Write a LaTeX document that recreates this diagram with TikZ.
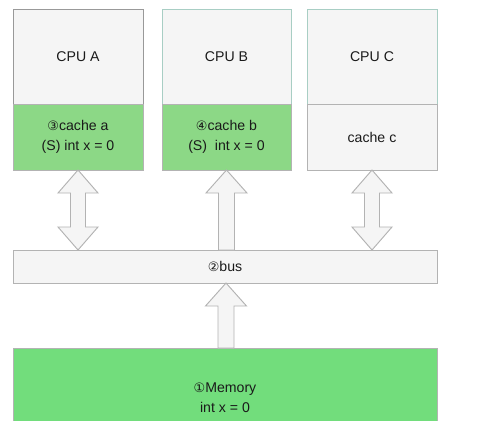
\documentclass[tikz,border=0pt]{standalone}
\usepackage{fontspec}
\setmainfont{Liberation Sans}
\newfontfamily\circfont{DejaVu Sans}
\usetikzlibrary{calc}
\definecolor{boxfill}{HTML}{F5F5F5}
\definecolor{boxline}{HTML}{B3B3B3}
\definecolor{darkline}{HTML}{999999}
\definecolor{tealline}{HTML}{A8CEC4}
\definecolor{cachegreen}{HTML}{8CD886}
\definecolor{memgreen}{HTML}{72DD7C}
\definecolor{txt}{HTML}{1A1A1A}
\newcommand{\circnum}[1]{{\circfont\fontsize{11}{13}\selectfont #1}}
\tikzset{
  blk/.style={draw=boxline, fill=boxfill, line width=0.8pt, inner sep=0pt, outer sep=0pt,
    text=txt, align=center, font=\fontsize{12}{17}\selectfont},
  cpubox/.style={blk, minimum width=110.5pt, minimum height=80.75pt},
  cachebox/.style={blk, minimum width=110.5pt, minimum height=56.1pt},
  blockarrow/.style={draw=boxline, fill=boxfill, line width=0.8pt, line join=miter}
}
\begin{document}
\begin{tikzpicture}[x=0.85pt, y=-0.85pt]
\useasboundingbox (0,0) rectangle (485,420);
% CPUs
\node[cpubox, draw=darkline] (cpuA) at (78,56.5) {CPU A};
\node[cachebox, fill=cachegreen, draw=boxline] (cacheA) at (78,137) {\circnum{③}cache a\\(S) int x = 0};
\draw[darkline, line width=0.8pt] (cpuA.south west) -- (cpuA.north west) -- (cpuA.north east) -- (cpuA.south east);
\node[cpubox, draw=tealline, minimum width=109.65pt] (cpuB) at (226.5,56.5) {CPU B};
\node[cachebox, fill=cachegreen, minimum width=109.65pt] (cacheB) at (226.5,137) {\circnum{④}cache b\\(S)\ \ int x = 0};
\draw[tealline, line width=0.8pt] (cpuB.south west) -- (cpuB.north west) -- (cpuB.north east) -- (cpuB.south east);
\node[cpubox, draw=tealline] (cpuC) at (372,56.5) {CPU C};
\node[cachebox] (cacheC) at (372,137) {cache c};
\draw[tealline, line width=0.8pt] (cpuC.north west) -- (cpuC.north east) -- (cpuC.south east);
% bus
\node[blk, minimum width=360.4pt, minimum height=28.05pt] (bus) at (225,266.5) {\circnum{②}bus};
% memory
\node[blk, fill=memgreen, draw=boxline, minimum width=360.4pt, minimum height=85pt] (mem) at (225,398) {\circnum{①}Memory\\int x = 0};
% double arrows A and C
\foreach \c in {cacheA,cacheC}{
  \path let \p1=(\c.south), \p2=(bus.north) in
    coordinate (tip1) at (\x1,\y1)
    coordinate (tip2) at (\x1,\y2);
  \draw[blockarrow] (tip1) -- ++(20,23) -- ++(-12.5,0) -- ++(0,34) -- ++(12.5,0)
     -- (tip2) -- ++(-20,-23) -- ++(12.5,0) -- ++(0,-34) -- ++(-12.5,0) -- cycle;
}
% single arrow B (bus -> cache b)
\path let \p1=(cacheB.south), \p2=(bus.north) in
  coordinate (bt1) at (\x1,\y1) coordinate (bt2) at (\x1,\y2);
\draw[blockarrow] (bt1) -- ++(20.5,23) -- ++(-12.5,0) |- ($(bt2)+(-8,0)$) -- ++(0,-57) -- ++(-12.5,0) -- cycle;
% single arrow memory -> bus
\path let \p1=(bus.south), \p2=(mem.north) in
  coordinate (mt1) at (226,\y1) coordinate (mt2) at (226,\y2);
\draw[blockarrow] (mt1) -- ++(20.5,23) -- ++(-12.5,0) |- ($(mt2)+(-8,0)$) -- ++(0,-42) -- ++(-12.5,0) -- cycle;
\end{tikzpicture}
\end{document}
